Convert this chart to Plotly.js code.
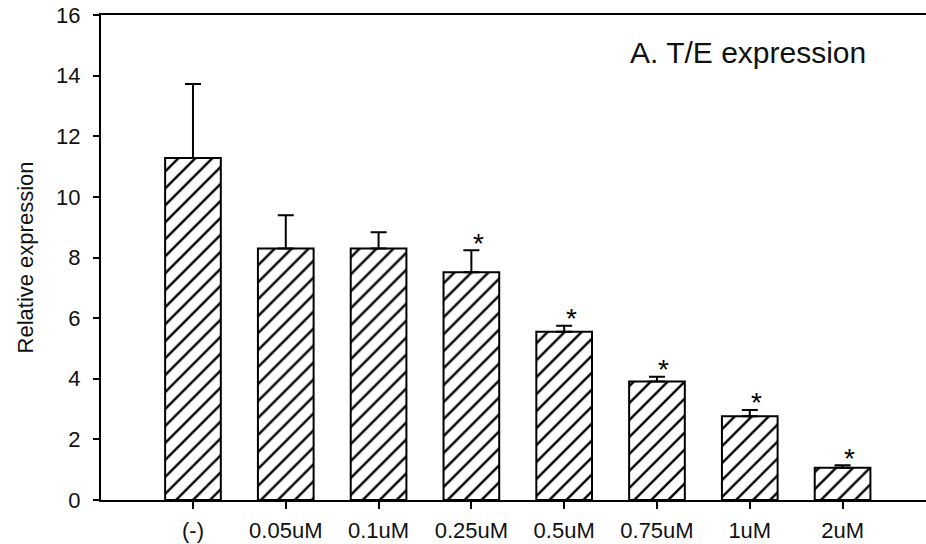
<!DOCTYPE html>
<html>
<head>
<meta charset="utf-8">
<script src="https://cdn.plot.ly/plotly-3.0.1.min.js"></script>
<style>
  html, body { margin: 0; padding: 0; background: #fff; }
  #chart { width: 926px; height: 544px; }
</style>
</head>
<body>
<div id="chart"></div>
<script>
// Treatment groups (dose) and relative T/E expression
const doses = ['(-)', '0.05uM', '0.1uM', '0.25uM', '0.5uM', '0.75uM', '1uM', '2uM'];
const expression = [11.28, 8.30, 8.30, 7.51, 5.55, 3.91, 2.76, 1.06];
const errorUp = [2.44, 1.09, 0.53, 0.73, 0.20, 0.16, 0.21, 0.09];
const significant = [false, false, false, true, true, true, true, true];
const yTicks = [0, 2, 4, 6, 8, 10, 12, 14, 16];

const font = 'Liberation Sans, Arial, sans-serif';

const bars = {
  type: 'bar',
  x: doses,
  y: expression,
  width: 0.6,
  marker: {
    color: '#ffffff',
    line: { color: '#000000', width: 2 },
    pattern: { shape: '/', size: 12, solidity: 0.2, fgcolor: '#000000', bgcolor: '#ffffff', fillmode: 'replace' }
  },
  error_y: {
    type: 'data',
    symmetric: false,
    array: errorUp,
    arrayminus: doses.map(() => 0),
    color: '#000000',
    thickness: 2,
    width: 8
  },
  hoverinfo: 'x+y'
};

// significance markers above the error caps
const stars = [];
doses.forEach((d, i) => {
  if (significant[i]) {
    stars.push({
      x: d, y: expression[i] + errorUp[i],
      xref: 'x', yref: 'y',
      text: '*', showarrow: false,
      xanchor: 'center', yanchor: 'middle',
      xshift: 7, yshift: 7,
      font: { family: font, size: 28, color: '#000000' }
    });
  }
});

const layout = {
  width: 926, height: 544,
  margin: { l: 101, r: 0, t: 15, b: 44 },
  paper_bgcolor: '#ffffff',
  plot_bgcolor: '#ffffff',
  showlegend: false,
  bargap: 0,
  font: { family: font, color: '#111111' },
  title: {
    text: 'A. T/E expression',
    xref: 'container', yref: 'container',
    x: 630 / 926, xanchor: 'left',
    y: 1 - 52 / 544, yanchor: 'middle',
    font: { family: font, size: 30, color: '#111111' }
  },
  xaxis: {
    type: 'category',
    range: [-0.991, 7.899],
    showgrid: false, zeroline: false,
    showline: true, linecolor: '#000000', linewidth: 2,
    mirror: true,
    ticks: 'outside', ticklen: 7, tickwidth: 2, tickcolor: '#000000',
    ticklabelstandoff: 3,
    tickfont: { family: font, size: 22, color: '#111111' }
  },
  yaxis: {
    range: [0, 16],
    tickvals: yTicks,
    ticktext: yTicks.map(String),
    showgrid: false, zeroline: false,
    showline: true, linecolor: '#000000', linewidth: 2,
    ticks: 'outside', ticklen: 6, tickwidth: 2, tickcolor: '#000000',
    ticklabelstandoff: 8,
    tickfont: { family: font, size: 22, color: '#111111' },
    title: {
      text: 'Relative expression',
      standoff: 16,
      font: { family: font, size: 22, color: '#111111' }
    },
    automargin: false
  },
  annotations: stars
};

Plotly.newPlot('chart', [bars], layout, { displayModeBar: false, staticPlot: true });
</script>
</body>
</html>
